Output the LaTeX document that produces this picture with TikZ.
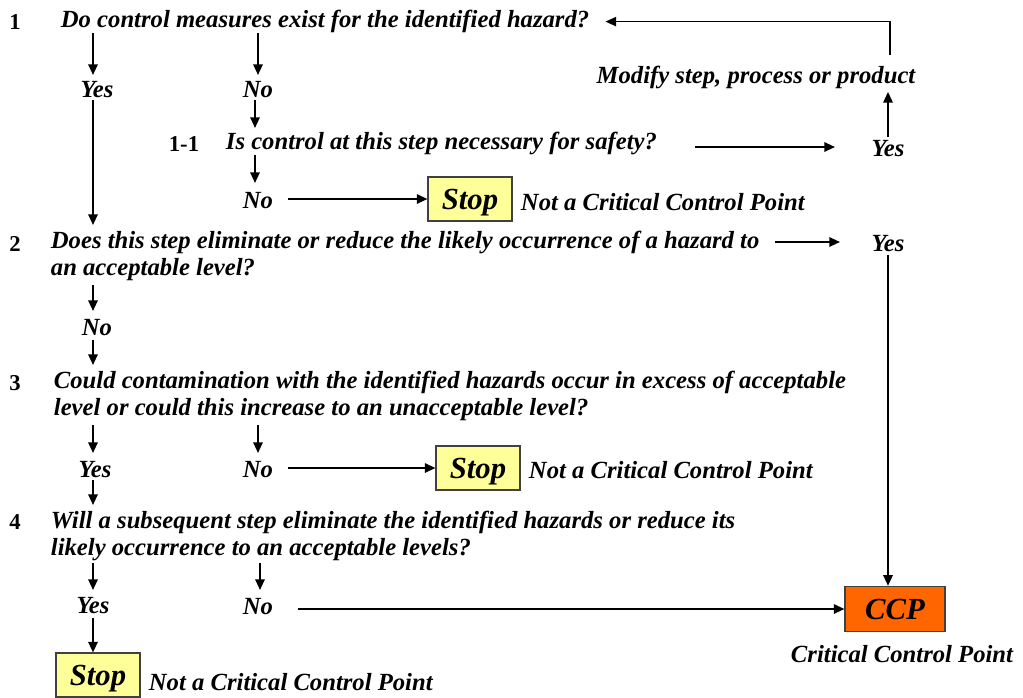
\documentclass[tikz,border=0pt]{standalone}
\usepackage{fontspec}
\setmainfont{Liberation Serif}
\usetikzlibrary{arrows.meta}

\definecolor{stopyellow}{HTML}{FFFF99}
\definecolor{ccporange}{HTML}{FF6600}

\begin{document}
\begin{tikzpicture}[x=0.75pt,y=-0.75pt,
    lbl/.style={font=\fontsize{18.5}{20.25}\selectfont\bfseries\itshape, inner sep=2pt, yshift=-1.2pt},
    qtext/.style={lbl, anchor=west, align=left},
    num/.style={font=\fontsize{17}{20}\selectfont\bfseries, inner sep=2pt, yshift=-1.2pt},
    stopbox/.style={draw=black!75, line width=0.8pt, fill=stopyellow, minimum width=63pt, minimum height=33pt,
        font=\fontsize{23}{24}\selectfont\bfseries\itshape, inner sep=0pt, text depth=0pt},
    ccpbox/.style={stopbox, fill=ccporange, minimum width=75pt, minimum height=34pt},
    arr/.style={-{Triangle[length=8pt,width=7pt]}, line width=1.5pt}]
    \useasboundingbox (0,0) rectangle (1023,697);

    \node[num] (n1) at (15,20) {1};
    \node[qtext] (q1) at (58,20) {Do control measures exist for the identified hazard?};
    \node[lbl] (yes1) at (97,88) {Yes};
    \node[lbl] (no1) at (258,88) {No};

    \node[num] (n11) at (184,142) {1-1};
    \node[qtext] (q11) at (223,142) {Is control at this step necessary for safety?};
    \node[lbl] (yes11) at (888,147) {Yes};
    \node[lbl] (modify) at (756,76) {Modify step, process or product};
    \node[lbl] (no11) at (258,199) {No};
    \node[stopbox] (stop1) at (470,199) {Stop};
    \node[qtext] (ncp1) at (518,200) {Not a Critical Control Point};

    \node[num] (n2) at (15,242) {2};
    \node[qtext] (q2) at (48,254.5) {Does this step eliminate or reduce the likely occurrence of a hazard to\\an acceptable level?};
    \node[lbl] (yes2) at (888,242) {Yes};
    \node[lbl] (no2) at (97,326) {No};

    \node[num] (n3) at (15,381) {3};
    \node[qtext] (q3) at (51,394) {Could contamination with the identified hazards occur in excess of acceptable\\level or could this increase to an unacceptable level?};
    \node[lbl] (yes3) at (95,468) {Yes};
    \node[lbl] (no3) at (258,468) {No};
    \node[stopbox] (stop2) at (478,468) {Stop};
    \node[qtext] (ncp2) at (526,468) {Not a Critical Control Point};

    \node[num] (n4) at (15,520) {4};
    \node[qtext] (q4) at (48,534) {Will a subsequent step eliminate the identified hazards or reduce its\\likely occurrence to an acceptable levels?};
    \node[lbl] (yes4) at (93,604) {Yes};
    \node[lbl] (no4) at (258,605) {No};
    \node[stopbox] (stop3) at (98,675) {Stop};
    \node[qtext] (ncp3) at (146,680) {Not a Critical Control Point};

    \node[ccpbox] (ccp) at (895,609) {CCP};
    \node[lbl] (ccplbl) at (902,652) {Critical Control Point};

    \draw[arr] (93,33) -- (93,75);
    \draw[arr] (258,33) -- (258,75);
    \draw[arr] (255,100) -- (255,128);
    \draw[arr] (695,147) -- (835,147);
    \draw[arr] (yes11.north) -- (yes11 |- modify.south);
    \draw[line width=1pt, -{Triangle[length=8pt,width=7pt]}] (890,55) |- ([xshift=10pt]q1.east);
    \draw[arr] (255,155) -- (255,183);
    \draw[arr] (288,199) -- (stop1.west);
    \draw[line width=1.5pt] (93,100) -- (93,200);
    \draw[arr] (93,200) -- (93,225);

    \draw[arr] (775,242) -- (840,242);
    \draw[arr] (yes2.south) -- (yes2.south |- ccp.north);
    \draw[arr] (93,285) -- (93,311);
    \draw[arr] (93,340) -- (93,365);

    \draw[arr] (93,425) -- (93,453);
    \draw[arr] (258,425) -- (258,453);
    \draw[arr] (288,468) -- (stop2.west);
    \draw[arr] (93,480) -- (93,505);

    \draw[arr] (93,563) -- (93,590);
    \draw[arr] (260,563) -- (260,590);
    \draw[arr] (298,609) -- (ccp.west);
    \draw[arr] (93,618) -- (stop3.north -| 93,0);
\end{tikzpicture}
\end{document}
